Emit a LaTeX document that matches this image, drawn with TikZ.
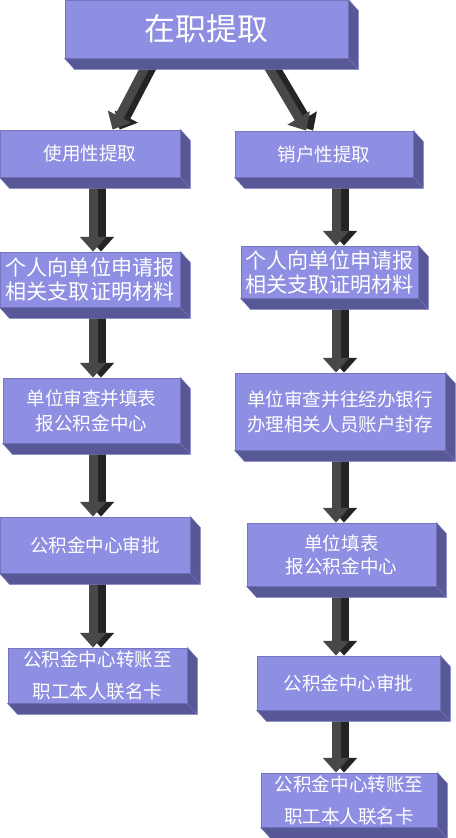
\documentclass[tikz,border=0pt]{standalone}
\usepackage{fontspec}
\newfontfamily\cjk{Noto Sans CJK SC}
\usetikzlibrary{arrows.meta,calc}
\pgfdeclarelayer{background}
\pgfsetlayers{background,main}
\definecolor{boxfront}{RGB}{142,142,226}
\definecolor{boxside}{RGB}{88,88,150}
\definecolor{boxedge}{RGB}{118,118,190}
\definecolor{arrowfront}{RGB}{72,72,72}
\definecolor{arrowshade}{RGB}{36,36,36}
\tikzset{
	stepbox/.style={draw=boxedge, line width=0.6pt, fill=boxfront, text=white, inner sep=0pt, align=center, font=\cjk\fontsize{13.9}{18.75}\selectfont},
	bigtext/.style={font=\cjk\fontsize{23.2}{28}\selectfont},
	widetext/.style={font=\cjk\fontsize{15.8}{18}\selectfont},
	loosetext/.style={font=\cjk\fontsize{13.9}{24}\selectfont},
	tighttext/.style={font=\cjk\fontsize{13.9}{17.25}\selectfont},
	boxdepth/.style={fill=boxside, draw=boxedge, line width=0.4pt},
	flowarrow/.style={line width=6.75pt, draw=arrowfront, -{Triangle[width=19pt,length=11pt]}},
	flowshade/.style={flowarrow, draw=arrowshade}
}

\begin{document}
\begin{tikzpicture}[x=0.75pt,y=0.75pt,yscale=-1,xscale=1]
	\useasboundingbox (0,0) rectangle (455,838);

	% Boxes
	\node[stepbox, bigtext, minimum width=212.25pt, minimum height=43.5pt] (top) at (206.5,29) {在职提取};
	\node[stepbox, minimum width=135pt, minimum height=35.25pt] (L1) at (90,153.5) {使用性提取};
	\node[stepbox, minimum width=133.5pt, minimum height=34.5pt] (R1) at (324,154) {销户性提取};
	\node[stepbox, widetext, minimum width=135pt, minimum height=41.25pt] (L2) at (90,279.5) {个人向单位申请报\\相关支取证明材料};
	\node[stepbox, widetext, minimum width=132.75pt, minimum height=39pt] (R2) at (329.5,272) {个人向单位申请报\\相关支取证明材料};
	\node[stepbox, minimum width=132.75pt, minimum height=48.75pt] (L3) at (91.5,410.5) {单位审查并填表\\报公积金中心};
	\node[stepbox, minimum width=157.5pt, minimum height=57.75pt] (R3) at (340,411.5) {单位审查并往经办银行\\办理相关人员账户封存};
	\node[stepbox, minimum width=142.5pt, minimum height=42pt] (L4) at (95,545) {公积金中心审批};
	\node[stepbox, loosetext, minimum width=134.25pt, minimum height=41.25pt] (L5) at (97.5,675.5) {公积金中心转账至\\职工本人联名卡};
	\node[stepbox, tighttext, minimum width=141.75pt, minimum height=47.25pt] (R4) at (341.5,554.5) {单位填表\\报公积金中心};
	\node[stepbox, minimum width=137.25pt, minimum height=40.5pt] (R5) at (348.5,683) {公积金中心审批};
	\node[stepbox, loosetext, minimum width=132pt, minimum height=40.5pt] (R6) at (349,800) {公积金中心转账至\\职工本人联名卡};

	% Box depth
	\foreach \n in {top,L1,R1,L2,R2,L3,R3,L4,L5,R4,R5,R6}{
		\draw[boxdepth] (\n.south west) -- ([shift={(10,11)}]\n.south west) -- ([shift={(10,11)}]\n.south east) -- ([shift={(10,11)}]\n.north east) -- (\n.north east) -- (\n.south east) -- cycle;
		\draw[draw=boxedge, line width=0.4pt] (\n.south east) -- ([shift={(10,11)}]\n.south east);
	}

	% Arrows
	\coordinate (colL) at (93,0);
	\coordinate (colR) at (336,0);
	\begin{pgfonlayer}{background}
		\draw[flowshade] ($(top.south)!0.4!(top.south west)+(7,0)$) -- ($(L1.north)!0.25!(L1.north east)+(7,0)$);
		\draw[flowarrow] ($(top.south)!0.4!(top.south west)$) -- ($(L1.north)!0.25!(L1.north east)$);
		\draw[flowshade] ($(top.south)!0.4!(top.south east)+(7,0)$) -- ($(R1.north)!0.2!(R1.north west)+(7,0)$);
		\draw[flowarrow] ($(top.south)!0.4!(top.south east)$) -- ($(R1.north)!0.2!(R1.north west)$);
		\foreach \a/\b/\c in {L1/L2/colL, L2/L3/colL, L3/L4/colL, L4/L5/colL, R1/R2/colR, R2/R3/colR, R3/R4/colR, R4/R5/colR, R5/R6/colR}{
			\draw[flowshade] ([xshift=6pt]\a.south -| \c) -- ([xshift=6pt]\b.north -| \c);
			\draw[flowarrow] (\a.south -| \c) -- (\b.north -| \c);
		}
	\end{pgfonlayer}

\end{tikzpicture}
\end{document}
